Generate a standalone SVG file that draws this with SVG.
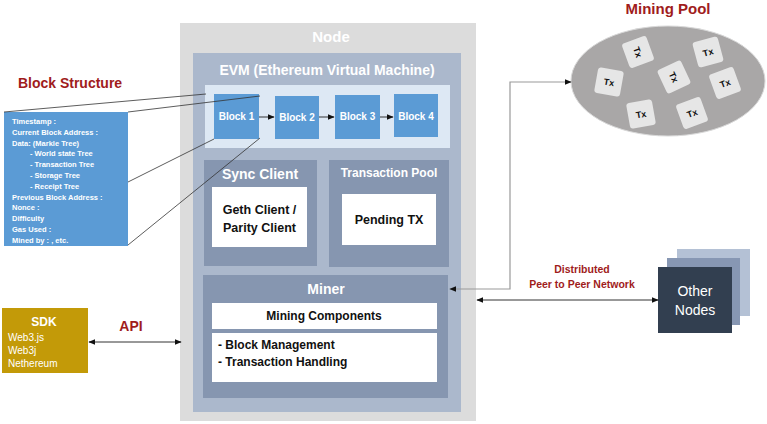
<svg xmlns="http://www.w3.org/2000/svg" width="767" height="424" viewBox="0 0 767 424">
<defs>
<style>
text{font-family:"Liberation Sans",Arial,sans-serif;font-weight:bold}
text.nw{font-weight:normal}
.wt{fill:#ffffff}
.bk{fill:#111111}
.red{fill:#a01c1c}
.blk{fill:#5b9bd5}
.panel{fill:#8696b0}
.white{fill:#ffffff}
.ln{stroke:#333;stroke-width:0.8;fill:none}
.conn{stroke:#333;stroke-width:1;fill:none}
.gconn{stroke:#999;stroke-width:1.2;fill:none}
.tx{fill:#e6e6e6}
</style>
<marker id="ah" viewBox="0 0 10 10" refX="9" refY="5" markerWidth="7" markerHeight="7" orient="auto-start-reverse" markerUnits="userSpaceOnUse">
<path d="M0,1 L10,5 L0,9 z" fill="#111"/>
</marker>
</defs>
<rect width="767" height="424" fill="#ffffff"/>

<g id="node">
<rect x="180" y="23" width="296" height="398" fill="#dcdcdc"/>
<text x="331" y="42" text-anchor="middle" font-size="15" class="wt">Node</text>
</g>
<g id="evm">
<rect x="193" y="53" width="268" height="359" fill="#abb8cc"/>
<text x="327" y="75" text-anchor="middle" font-size="14" class="wt">EVM (Ethereum Virtual Machine)</text>
<rect x="205" y="85" width="245" height="63" fill="#dde8f4"/>
</g>
<g id="block1"><rect x="214" y="94" width="45" height="45" class="blk"/><text x="236.5" y="120" text-anchor="middle" font-size="10" class="wt">Block 1</text></g>
<g id="block2"><rect x="275" y="96" width="44" height="43" class="blk"/><text x="297" y="121" text-anchor="middle" font-size="10" class="wt">Block 2</text></g>
<g id="block3"><rect x="335" y="95" width="45" height="44" class="blk"/><text x="357.5" y="120" text-anchor="middle" font-size="10" class="wt">Block 3</text></g>
<g id="block4"><rect x="394" y="94" width="44" height="43" class="blk"/><text x="416" y="120" text-anchor="middle" font-size="10" class="wt">Block 4</text></g>

<g id="sync-client">
<rect x="204" y="160" width="113" height="106" class="panel"/>
<text x="260" y="179" text-anchor="middle" font-size="14" class="wt">Sync Client</text>
<rect x="212" y="187" width="95" height="60" class="white"/>
<text x="259.5" y="214" text-anchor="middle" font-size="12.5" class="bk">Geth Client /</text>
<text x="259.5" y="232" text-anchor="middle" font-size="12.5" class="bk">Parity Client</text>
</g>
<g id="transaction-pool">
<rect x="329" y="160" width="120" height="107" class="panel"/>
<text x="389" y="177" text-anchor="middle" font-size="12" class="wt">Transaction Pool</text>
<rect x="342" y="194" width="94" height="51" class="white"/>
<text x="389" y="224" text-anchor="middle" font-size="12.5" class="bk">Pending TX</text>
</g>
<g id="miner">
<rect x="203" y="275" width="245" height="123" class="panel"/>
<text x="326" y="294" text-anchor="middle" font-size="14" class="wt">Miner</text>
<rect x="212" y="303" width="225" height="26" class="white"/>
<text x="324" y="320" text-anchor="middle" font-size="12" class="bk">Mining Components</text>
<rect x="212" y="333" width="225" height="49" class="white"/>
<text x="218" y="349" font-size="12" class="bk">- Block Management</text>
<text x="218" y="366" font-size="12" class="bk">- Transaction Handling</text>
</g>

<g id="block-structure">
<text x="70" y="88" text-anchor="middle" font-size="14" class="red">Block Structure</text>
<rect x="4" y="112" width="124" height="134" class="blk"/>
<g font-size="7.5" class="wt">
<text x="12" y="124">Timestamp :</text>
<text x="12" y="134.8">Current Block Address :</text>
<text x="12" y="145.6">Data: (Markle Tree)</text>
<text x="30" y="156.4">- World state Tree</text>
<text x="30" y="167.2">- Transaction Tree</text>
<text x="30" y="178">- Storage Tree</text>
<text x="30" y="188.8">- Receipt Tree</text>
<text x="12" y="199.6">Previous Block Address :</text>
<text x="12" y="210.4">Nonce :</text>
<text x="12" y="221.2">Difficulty</text>
<text x="12" y="232">Gas Used :</text>
<text x="12" y="242.8">Mined by : , etc.</text>
</g>
</g>

<g id="mining-pool">
<text x="668" y="14" text-anchor="middle" font-size="15" class="red">Mining Pool</text>
<ellipse cx="668" cy="81" rx="97" ry="55" fill="#a9a7a7" stroke="#d8d8d8" stroke-width="1"/>
<g font-size="9" class="bk" text-anchor="middle">
<g transform="translate(638,52) rotate(70)"><rect x="-13" y="-13" width="26" height="26" rx="3" class="tx"/><text x="0" y="3.5">Tx</text></g>
<g transform="translate(708,52) rotate(-15)"><rect x="-13" y="-13" width="26" height="26" rx="3" class="tx"/><text x="0" y="3.5">Tx</text></g>
<g transform="translate(609,82) rotate(10)"><rect x="-13" y="-13" width="26" height="26" rx="3" class="tx"/><text x="0" y="3.5">Tx</text></g>
<g transform="translate(674,77) rotate(65)"><rect x="-13" y="-13" width="26" height="26" rx="3" class="tx"/><text x="0" y="3.5">Tx</text></g>
<g transform="translate(725,83) rotate(-20)"><rect x="-13" y="-13" width="26" height="26" rx="3" class="tx"/><text x="0" y="3.5">Tx</text></g>
<g transform="translate(641,114) rotate(-10)"><rect x="-13" y="-13" width="26" height="26" rx="3" class="tx"/><text x="0" y="3.5">Tx</text></g>
<g transform="translate(692,113) rotate(-20)"><rect x="-13" y="-13" width="26" height="26" rx="3" class="tx"/><text x="0" y="3.5">Tx</text></g>
</g>
</g>

<g id="other-nodes">
<rect x="677" y="249" width="73" height="67" fill="#b4c1d5"/>
<rect x="667" y="258" width="73" height="67" fill="#8797b3"/>
<rect x="658" y="267" width="74" height="66" fill="#323f50"/>
<text x="695" y="296" text-anchor="middle" font-size="14" class="wt nw">Other</text>
<text x="695" y="315" text-anchor="middle" font-size="14" class="wt nw">Nodes</text>
</g>

<g id="sdk">
<rect x="2" y="308" width="86" height="65" fill="#c39a08"/>
<text x="44" y="326" text-anchor="middle" font-size="12" class="wt">SDK</text>
<g font-size="10">
<text x="8" y="341" class="wt nw">Web3.js</text>
<text x="8" y="354" class="wt nw">Web3j</text>
<text x="8" y="367" class="wt nw">Nethereum</text>
</g>
</g>

<g id="connectors">
<line x1="4" y1="112" x2="206" y2="94" class="ln"/>
<line x1="128" y1="112" x2="260" y2="96" class="ln"/>
<line x1="128" y1="182" x2="214" y2="139" class="ln"/>
<line x1="128" y1="245" x2="260" y2="138" class="ln"/>
<line x1="259" y1="117" x2="274" y2="117" class="conn" marker-end="url(#ah)"/>
<line x1="319" y1="117" x2="334" y2="117" class="conn" marker-end="url(#ah)"/>
<line x1="380" y1="117" x2="393" y2="117" class="conn" marker-end="url(#ah)"/>
<polyline points="450,289 510,289 510,82 571,82" class="gconn" marker-start="url(#ah)" marker-end="url(#ah)"/>
<line x1="477" y1="300" x2="658" y2="300" class="conn" marker-start="url(#ah)" marker-end="url(#ah)"/>
<line x1="89" y1="342" x2="181" y2="342" class="conn" marker-start="url(#ah)" marker-end="url(#ah)"/>
<text x="131" y="331" text-anchor="middle" font-size="14" class="red">API</text>
<text x="582" y="273" text-anchor="middle" font-size="10.5" class="red">Distributed</text>
<text x="582" y="288" text-anchor="middle" font-size="10.5" class="red">Peer to Peer Network</text>
</g>
</svg>
